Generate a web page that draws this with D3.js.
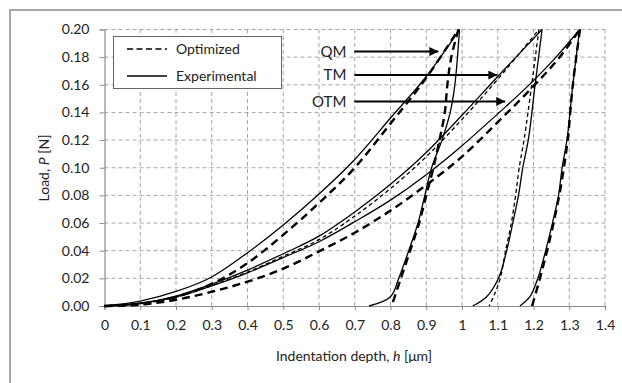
<!DOCTYPE html>
<html>
<head>
<meta charset="utf-8">
<script src="https://cdn.jsdelivr.net/npm/d3@7"></script>
<style>
  body { margin: 0; background: #fff; }
  text { font-family: Lato, "Liberation Sans", sans-serif; fill: #222; }
</style>
</head>
<body>
<div id="chart"></div>
<script>
// tick values and labels
const xTicks = [0, 0.1, 0.2, 0.3, 0.4, 0.5, 0.6, 0.7, 0.8, 0.9, 1.0, 1.1, 1.2, 1.3, 1.4];
const xTickLabels = ["0", "0.1", "0.2", "0.3", "0.4", "0.5", "0.6", "0.7", "0.8", "0.9", "1", "1.1", "1.2", "1.3", "1.4"];
const yTicks = [0, 0.02, 0.04, 0.06, 0.08, 0.10, 0.12, 0.14, 0.16, 0.18, 0.20];
const yTickLabels = ["0.00", "0.02", "0.04", "0.06", "0.08", "0.10", "0.12", "0.14", "0.16", "0.18", "0.20"];

// [h (um), P (N)]
const qmExpLoad = [[0, 0], [0.1, 0.0035], [0.2, 0.0105], [0.3, 0.021], [0.4, 0.0385], [0.5, 0.0586], [0.6, 0.081], [0.7, 0.106], [0.8, 0.136], [0.9, 0.166], [0.993, 0.2]];
const qmExpUnload = [[0.993, 0.2], [0.98, 0.16], [0.967, 0.14], [0.944, 0.12], [0.915, 0.10], [0.896, 0.08], [0.877, 0.06], [0.851, 0.04], [0.823, 0.02], [0.80, 0.0067], [0.74, 0]];
const qmOptLoad = [[0, 0], [0.1, 0.0015], [0.2, 0.0065], [0.3, 0.016], [0.4, 0.031], [0.5, 0.0515], [0.6, 0.0745], [0.7, 0.10], [0.8, 0.132], [0.9, 0.165], [0.99, 0.2]];
const qmOptUnload = [[0.99, 0.2], [0.97, 0.18], [0.959, 0.16], [0.952, 0.14], [0.937, 0.12], [0.92, 0.10], [0.9, 0.08], [0.88, 0.06], [0.855, 0.04], [0.829, 0.02], [0.803, 0]];

const tmExpLoad = [[0, 0], [0.1, 0.002], [0.2, 0.0072], [0.3, 0.0158], [0.4, 0.026], [0.5, 0.0378], [0.6, 0.0505], [0.7, 0.068], [0.8, 0.088], [0.9, 0.111], [1.0, 0.138], [1.1, 0.166], [1.224, 0.2]];
const tmExpUnload = [[1.224, 0.2], [1.204, 0.159], [1.186, 0.121], [1.17, 0.10], [1.158, 0.08], [1.142, 0.06], [1.125, 0.04], [1.102, 0.02], [1.069, 0.0067], [1.03, 0]];
const tmOptLoad = [[0, 0], [0.1, 0.0017], [0.2, 0.0065], [0.3, 0.0148], [0.4, 0.0245], [0.5, 0.036], [0.6, 0.048], [0.7, 0.065], [0.8, 0.085], [0.9, 0.108], [1.0, 0.135], [1.1, 0.164], [1.215, 0.2]];
const tmOptUnload = [[1.215, 0.2], [1.195, 0.16], [1.174, 0.121], [1.16, 0.10], [1.15, 0.08], [1.138, 0.06], [1.122, 0.04], [1.107, 0.02], [1.09, 0.008], [1.076, 0]];

const otmExpLoad = [[0, 0], [0.1, 0.002], [0.2, 0.0065], [0.3, 0.0145], [0.4, 0.024], [0.5, 0.035], [0.6, 0.0465], [0.7, 0.061], [0.8, 0.0766], [0.9, 0.095], [1.0, 0.116], [1.1, 0.139], [1.2, 0.163], [1.263, 0.18], [1.329, 0.2]];
const otmExpUnload = [[1.329, 0.2], [1.31, 0.16], [1.294, 0.121], [1.28, 0.10], [1.27, 0.08], [1.253, 0.06], [1.234, 0.04], [1.212, 0.02], [1.19, 0.0067], [1.162, 0]];
const otmOptLoad = [[0, 0], [0.1, 0.001], [0.2, 0.0045], [0.3, 0.0103], [0.4, 0.0176], [0.5, 0.027], [0.6, 0.0395], [0.7, 0.053], [0.8, 0.069], [0.9, 0.0875], [1.0, 0.108], [1.1, 0.133], [1.2, 0.159], [1.27, 0.179], [1.33, 0.2]];
const otmOptUnload = [[1.33, 0.2], [1.31, 0.16], [1.296, 0.121], [1.285, 0.10], [1.272, 0.08], [1.256, 0.06], [1.238, 0.04], [1.218, 0.02], [1.196, 0]];

// labels with arrows: [label, P, h start, h tip]
const arrowNames = ["QM", "TM", "OTM"];
const arrowP = [0.184, 0.167, 0.148];
const arrowStart = [0.699, 0.699, 0.699];
const arrowTip = [0.934, 1.099, 1.121];

const width = 622;
const height = 383;

const svg = d3.select('#chart').append('svg')
    .attr('width', width)
    .attr('height', height);

svg.append('rect')
    .attr('x', 10).attr('y', 10)
    .attr('width', 700).attr('height', 500)
    .attr('fill', '#fff')
    .attr('stroke', '#8c8c8c')
    .attr('stroke-width', 1.5);

const x = d3.scaleLinear().domain([0, 1.4]).range([104.5, 605]);
const y = d3.scaleLinear().domain([0, 0.2]).range([306, 29.5]);

// grid
svg.append('g').selectAll('line')
    .data(xTicks.slice(1))
    .join('line')
    .attr('x1', d => x(d)).attr('x2', d => x(d))
    .attr('y1', y(0)).attr('y2', y(0.2))
    .attr('stroke', '#a6a6a6')
    .attr('stroke-dasharray', '4,3');

svg.append('g').selectAll('line')
    .data(yTicks.slice(1))
    .join('line')
    .attr('x1', x(0)).attr('x2', x(1.4))
    .attr('y1', d => y(d)).attr('y2', d => y(d))
    .attr('stroke', '#a6a6a6')
    .attr('stroke-dasharray', '4,3');

// axes
const xAxis = svg.append('g')
    .attr('transform', `translate(0,${y(0)})`)
    .call(d3.axisBottom(x).tickValues(xTicks)
        .tickFormat((d, i) => xTickLabels[i])
        .tickSize(4).tickPadding(10));

const yAxis = svg.append('g')
    .attr('transform', `translate(${x(0)},0)`)
    .call(d3.axisLeft(y).tickValues(yTicks)
        .tickFormat((d, i) => yTickLabels[i])
        .tickSize(5).tickPadding(10));

[xAxis, yAxis].forEach(a => {
    a.select('.domain').attr('stroke', '#8c8c8c').attr('stroke-width', 1.2);
    a.selectAll('.tick line').attr('stroke', '#8c8c8c');
    a.selectAll('.tick text')
        .style('font-family', 'Lato, "Liberation Sans", sans-serif')
        .style('font-size', '14px')
        .attr('fill', '#222');
});

// axis titles
const xTitle = svg.append('text')
    .attr('x', 354).attr('y', 361)
    .attr('text-anchor', 'middle')
    .style('font-size', '14px');
xTitle.append('tspan').text('Indentation depth, ');
xTitle.append('tspan').style('font-style', 'italic').text('h');
xTitle.append('tspan').text(' [μm]');

const yTitle = svg.append('text')
    .attr('transform', 'translate(49,168) rotate(-90)')
    .attr('text-anchor', 'middle')
    .style('font-size', '14px');
yTitle.append('tspan').text('Load, ');
yTitle.append('tspan').style('font-style', 'italic').text('P');
yTitle.append('tspan').text(' [N]');

// curves
const loadLine = d3.line()
    .x(d => x(d[0]))
    .y(d => y(d[1]))
    .curve(d3.curveMonotoneX);

const unloadLine = d3.line()
    .x(d => x(d[0]))
    .y(d => y(d[1]))
    .curve(d3.curveCatmullRom.alpha(0.5));

const curves = [
    { data: qmOptLoad, kind: 'thick', gen: loadLine }, { data: qmOptUnload, kind: 'thick', gen: unloadLine },
    { data: tmOptLoad, kind: 'thin', gen: loadLine }, { data: tmOptUnload, kind: 'thin', gen: unloadLine },
    { data: otmOptLoad, kind: 'thick', gen: loadLine }, { data: otmOptUnload, kind: 'thick', gen: unloadLine },
    { data: qmExpLoad, kind: 'solid', gen: loadLine }, { data: qmExpUnload, kind: 'solid', gen: unloadLine },
    { data: tmExpLoad, kind: 'solid', gen: loadLine }, { data: tmExpUnload, kind: 'solid', gen: unloadLine },
    { data: otmExpLoad, kind: 'solid', gen: loadLine }, { data: otmExpUnload, kind: 'solid', gen: unloadLine }
];

svg.append('g').selectAll('path')
    .data(curves)
    .join('path')
    .attr('d', d => d.gen(d.data))
    .attr('fill', 'none')
    .attr('stroke', '#000')
    .attr('stroke-width', d => d.kind === 'thick' ? 2.4 : 1.3)
    .attr('stroke-dasharray', d => d.kind === 'thick' ? '8,5' : d.kind === 'thin' ? '4,3' : null);

// arrows
const defs = svg.append('defs');
defs.append('marker')
    .attr('id', 'arrow')
    .attr('viewBox', '0 0 10 10')
    .attr('refX', 10).attr('refY', 5)
    .attr('markerWidth', 5).attr('markerHeight', 4.5)
    .attr('markerUnits', 'strokeWidth')
    .attr('orient', 'auto')
    .append('path')
    .attr('d', 'M0,0 L10,5 L0,10 Z')
    .attr('fill', '#000');

const ann = svg.append('g');
arrowNames.forEach((name, i) => {
    ann.append('line')
        .attr('x1', x(arrowStart[i])).attr('x2', x(arrowTip[i]))
        .attr('y1', y(arrowP[i])).attr('y2', y(arrowP[i]))
        .attr('stroke', '#000')
        .attr('stroke-width', 2)
        .attr('marker-end', 'url(#arrow)');
    ann.append('text')
        .attr('x', x(arrowStart[i]) - 8)
        .attr('y', y(arrowP[i]))
        .attr('dy', '0.35em')
        .attr('text-anchor', 'end')
        .style('font-size', '15px')
        .text(name);
});

// legend
const legend = svg.append('g');
legend.append('rect')
    .attr('x', 113.5).attr('y', 36.5)
    .attr('width', 168).attr('height', 52)
    .attr('fill', '#fff')
    .attr('stroke', '#666')
    .attr('stroke-width', 1);
legend.append('line')
    .attr('x1', 127).attr('x2', 167).attr('y1', 49).attr('y2', 49)
    .attr('stroke', '#000').attr('stroke-width', 1.5)
    .attr('stroke-dasharray', '6,3.5');
legend.append('line')
    .attr('x1', 127).attr('x2', 167).attr('y1', 76).attr('y2', 76)
    .attr('stroke', '#000').attr('stroke-width', 1.5);
legend.append('text')
    .attr('x', 176).attr('y', 49).attr('dy', '0.35em')
    .style('font-size', '14px')
    .text('Optimized');
legend.append('text')
    .attr('x', 176).attr('y', 76).attr('dy', '0.35em')
    .style('font-size', '14px')
    .text('Experimental');
</script>
</body>
</html>
